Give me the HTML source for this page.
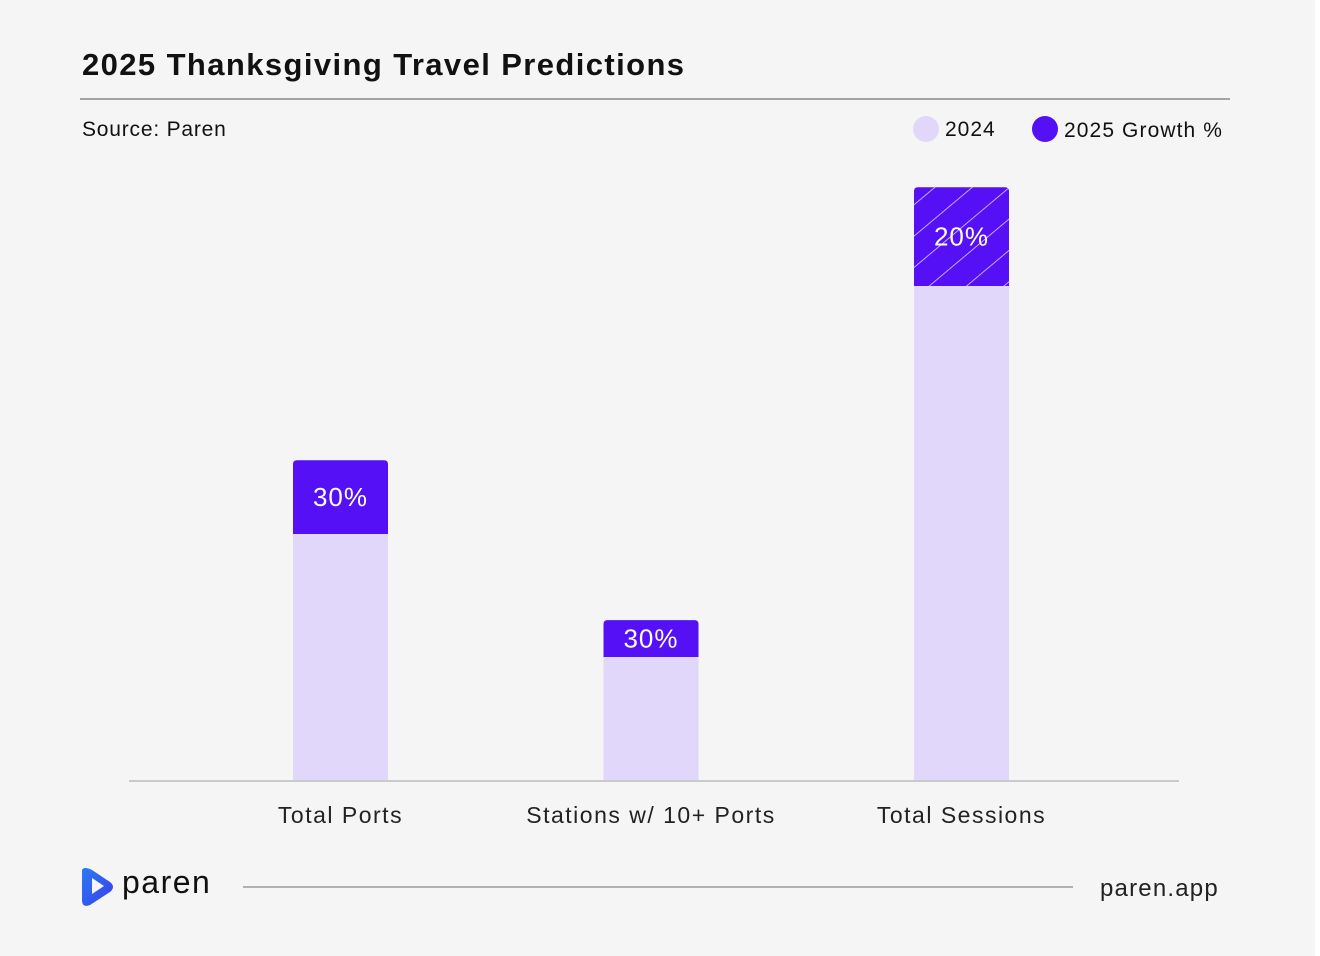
<!DOCTYPE html>
<html><head><meta charset="utf-8"><style>
html,body{margin:0;padding:0;background:#f5f5f5;}
body{width:1320px;height:956px;overflow:hidden;font-family:"Liberation Sans",sans-serif;}
svg{display:block;}
</style></head><body>
<svg id="chart" width="1320" height="956" xmlns="http://www.w3.org/2000/svg">
<defs>
<pattern id="hatch" patternUnits="userSpaceOnUse" width="24" height="24" patternTransform="rotate(-40)">
<rect width="24" height="24" fill="#5510f5"/>
<line x1="0" y1="0" x2="24" y2="0" stroke="#ffffff" stroke-width="1.6" opacity="0.85"/>
</pattern>
<linearGradient id="lg" x1="0" y1="0" x2="1" y2="1"><stop offset="0" stop-color="#2a7bf5"/><stop offset="1" stop-color="#3a3ee8"/></linearGradient>
</defs>
<rect x="0" y="0" width="1320" height="956" fill="#f5f5f5"/>
<rect x="1315" y="0" width="5" height="956" fill="#ffffff"/>
<text x="82" y="75" font-size="31" font-weight="bold" letter-spacing="1.4" fill="#111">2025 Thanksgiving Travel Predictions</text>
<line x1="80" y1="99" x2="1230" y2="99" stroke="#888" stroke-width="1.5"/>
<text x="82" y="136" font-size="21" letter-spacing="0.8" fill="#111">Source: Paren</text>
<g>
<g><circle cx="926" cy="129" r="13" fill="#e0d7fb"/><text x="945" y="136" font-size="21" letter-spacing="1" fill="#111">2024</text></g>
<g><circle cx="1045" cy="129" r="13" fill="#5510f5"/><text x="1064" y="137" font-size="21" letter-spacing="1.1" fill="#111">2025 Growth %</text></g>
</g>
<line x1="129" y1="781" x2="1179" y2="781" stroke="#bbb" stroke-width="1.5"/>
<g id="bars"></g>
<g>
<path d="M82 870 L82 900 Q82 908 90 905 L110 892 Q116 887 110 882 L92 870 Q84 866 82 870 Z M92 878 L92 894 L104 886 Z" fill="url(#lg)" fill-rule="evenodd"/>
<text x="122" y="893" font-size="32" letter-spacing="1.5" fill="#111">paren</text>
<line x1="243" y1="887" x2="1073" y2="887" stroke="#888" stroke-width="1.2"/>
<text x="1100" y="896" font-size="24" letter-spacing="1.2" fill="#222">paren.app</text>
</g>
</svg>
<script>
const categories = ["Total Ports", "Stations w/ 10+ Ports", "Total Sessions"];
const base2024 = [246, 123, 494];
const growthPct = [30, 30, 20];
const hatched = [false, false, true];
const NS = "http://www.w3.org/2000/svg";
const g = document.getElementById("bars");
const baseY = 780, bw = 95;
function xScale(i){ return 340.5 + i * 310.5; }
function yScale(v){ return baseY - v; }
function mk(tag, attrs){ const e = document.createElementNS(NS, tag); for (const k in attrs) e.setAttribute(k, attrs[k]); return e; }
categories.forEach((c, i) => {
  const cx = xScale(i), x = cx - bw/2;
  const b = base2024[i], top = b + b * growthPct[i] / 100;
  const r1 = mk("rect", {x: x, y: yScale(b), width: bw, height: baseY - yScale(b), fill: "#e0d7fb"});
  
  
  g.appendChild(r1);
  const y2 = yScale(top), h2 = yScale(b) - y2;
  const r2 = mk("path", {d: `M${x} ${y2+h2} L${x} ${y2+4} Q${x} ${y2} ${x+4} ${y2} L${x+bw-4} ${y2} Q${x+bw} ${y2} ${x+bw} ${y2+4} L${x+bw} ${y2+h2} Z`, fill: hatched[i] ? "url(#hatch)" : "#5510f5"});
  
  
  g.appendChild(r2);
  const t = mk("text", {x: cx, y: y2 + h2/2 + 9, "text-anchor": "middle", "font-size": 26, "letter-spacing": 1, fill: "#fff"});
  t.textContent = growthPct[i] + "%";
  
  
  g.appendChild(t);
  const l = mk("text", {x: cx, y: 823, "text-anchor": "middle", "font-size": 23, "letter-spacing": 1.5, fill: "#222"});
  l.textContent = c;
  
  
  g.appendChild(l);
});
</script>
</body></html>
